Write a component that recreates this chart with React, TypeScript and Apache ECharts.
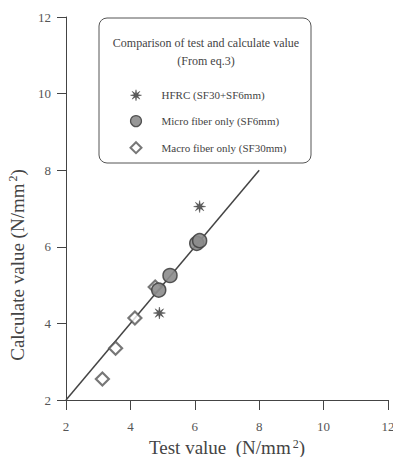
import React, { useEffect, useRef } from "react";
import * as echarts from "echarts";

const xTicks = [2, 4, 6, 8, 10, 12];
const yTicks = [2, 4, 6, 8, 10, 12];
const hfrcX = [6.15, 4.9];
const hfrcY = [7.05, 4.27];
const microX = [6.06, 6.15, 5.23, 4.88];
const microY = [6.09, 6.16, 5.25, 4.87];
const macroX = [3.13, 3.54, 4.14, 4.77];
const macroY = [2.55, 3.35, 4.14, 4.95];
const lineX = [2, 8];
const lineY = [2, 8];
const legendNames = ["HFRC (SF30+SF6mm)", "Micro fiber only (SF6mm)", "Macro fiber only (SF30mm)"];

const STAR =
  "path://M10 0 L11.3 6.9 L17.07 2.93 L13.1 8.7 L20 10 L13.1 11.3 L17.07 17.07 L11.3 13.1 L10 20 L8.7 13.1 L2.93 17.07 L6.9 11.3 L0 10 L6.9 8.7 L2.93 2.93 L8.7 6.9 Z";

const FONT = '"Liberation Serif", "DejaVu Serif", serif';
const INK = "#444";

const pairs = (xs: number[], ys: number[]) => xs.map((x, i) => [x, ys[i]]);

export default function App() {
  const ref = useRef<HTMLDivElement>(null);
  useEffect(() => {
    const chart = echarts.init(ref.current!, null, { renderer: "svg" });
    chart.setOption({
      animation: false,
      backgroundColor: "#fff",
      grid: { left: 66, right: 5, top: 17, bottom: 57, containLabel: false, outerBoundsMode: "none" },
      xAxis: {
        type: "value",
        min: xTicks[0],
        max: xTicks[xTicks.length - 1],
        interval: 2,
        name: "Test value  (N/mm{sup|2})",
        nameLocation: "middle",
        nameGap: 29,
        nameTextStyle: {
          fontFamily: FONT,
          fontSize: 19,
          color: INK,
          rich: { sup: { fontFamily: FONT, fontSize: 12, color: INK, verticalAlign: "top", padding: [0, 0, 8, 2] } },
        },
        axisLine: { lineStyle: { color: INK, width: 1 } },
        axisTick: { show: true, length: 10, lineStyle: { color: INK } },
        axisLabel: { fontFamily: FONT, fontSize: 13, color: "#555", margin: 20 },
        splitLine: { show: false },
      },
      yAxis: {
        type: "value",
        min: yTicks[0],
        max: yTicks[yTicks.length - 1],
        interval: 2,
        axisLine: { show: true, lineStyle: { color: INK, width: 1 } },
        axisTick: { show: true, length: 9, lineStyle: { color: INK } },
        axisLabel: { fontFamily: FONT, fontSize: 13, color: "#555", margin: 15 },
        splitLine: { show: false },
      },
      legend: {
        orient: "vertical",
        left: 124.5,
        top: 84.5,
        itemWidth: 11,
        itemHeight: 11,
        itemGap: 14,
        data: [
          { name: legendNames[0], itemStyle: { borderWidth: 0.5 } },
          { name: legendNames[1], itemStyle: { borderWidth: 1.2 } },
          { name: legendNames[2], itemStyle: { borderWidth: 2 } },
        ],
        textStyle: { fontFamily: FONT, fontSize: 11, color: INK, padding: [0, 0, 0, 15] },
      },
      graphic: [
        {
          type: "rect",
          shape: { x: 99, y: 18, width: 212, height: 145, r: 8 },
          style: { fill: "none", stroke: "#555", lineWidth: 1 },
          z: 10,
        },
        {
          type: "text",
          x: 206,
          y: 43,
          style: { text: "Comparison of test and calculate value", font: `12px ${FONT}`, fill: INK, align: "center", verticalAlign: "middle" },
          z: 10,
        },
        {
          type: "text",
          x: 206,
          y: 61,
          style: { text: "(From eq.3)", font: `12px ${FONT}`, fill: INK, align: "center", verticalAlign: "middle" },
          z: 10,
        },
        {
          type: "text",
          x: 17,
          y: 265,
          rotation: Math.PI / 2,
          style: {
            text: "Calculate value (N/mm{sup|2})",
            font: `19px ${FONT}`,
            fill: INK,
            align: "center",
            verticalAlign: "middle",
            rich: { sup: { font: `12px ${FONT}`, fill: INK, verticalAlign: "top", padding: [0, 0, 8, 2] } },
          },
          z: 10,
        },
      ],
      series: [
        {
          type: "line",
          data: pairs(lineX, lineY),
          showSymbol: false,
          symbol: "none",
          lineStyle: { color: INK, width: 1.5 },
          silent: true,
        },
        {
          name: legendNames[2],
          type: "scatter",
          symbol: "diamond",
          symbolSize: 13,
          data: pairs(macroX, macroY),
          itemStyle: { color: "#fff", borderColor: "#555", borderWidth: 2.2 },
          z: 3,
        },
        {
          name: legendNames[1],
          type: "scatter",
          symbol: "circle",
          symbolSize: 14,
          data: pairs(microX, microY),
          itemStyle: { color: "#8c8c8c", borderColor: "#444", borderWidth: 1.5, opacity: 0.9 },
          z: 4,
        },
        {
          name: legendNames[0],
          type: "scatter",
          symbol: STAR,
          symbolSize: 12,
          data: pairs(hfrcX, hfrcY),
          itemStyle: { color: "#333", borderColor: "#333", borderWidth: 0.5 },
          z: 5,
        },
      ],
    });
    return () => chart.dispose();
  }, []);
  return <div ref={ref} style={{ position: "fixed", left: 0, top: 0, width: 393, height: 457 }} />;
}
